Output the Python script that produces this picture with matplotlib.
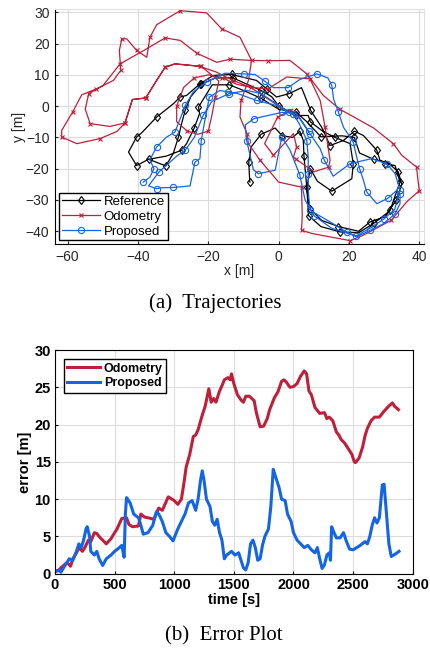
import matplotlib
matplotlib.use("Agg")
import matplotlib.pyplot as plt

# ---- (a) trajectories: waypoints [m] ----
ref_x = [-8.2, -8.3, -8.5, -7.8, -5.0, -1.0, 1.0, 4.0, 6.0, 7.0, 7.2, 7.5, 8.0, 8.4, 9.0, 12.2, 17.0,
         22.7, 26.0, 30.2, 31.7, 33.0, 34.5, 33.1, 30.2, 28.8, 27.9, 24.1, 21.5, 18.4, 14.6, 12.2, 9.1,
         6.5, 3.0, -0.6, -3.4, -6.3, -13.4, -18.6, -22.4, -26.2, -28.0, -30.0, -34.7, -39.0, -40.4,
         -42.7, -40.4, -37.0, -32.1, -30.0, -28.5, -27.6, -26.6, -25.0, -22.0, -18.0, -13.0, -9.0,
         -5.0, -2.0, 0.0, 2.3, 5.0, 8.4, 9.0, 12.5, 16.0, 20.3, 21.2, 20.8, 15.1, 11.0, 9.0, 8.0, 8.5,
         12.0, 17.4, 22.7, 27.0, 31.0, 33.5, 35.0, 34.0, 31.0, 27.0, 23.0, 21.5, 18.0, 12.0, 8.0,
         5.0, 0.0, -5.0, -10.0, -14.0, -18.9, -22.8, -22.5, -24.0, -26.2, -27.6, -32.0, -37.0]
ref_y = [-24.3, -22.5, -18.0, -13.0, -9.0, -7.0, -9.5, -10.0, -8.0, -11.0, -16.0, -20.0, -26.0,
         -30.0, -33.0, -36.5, -38.5, -40.0, -37.0, -35.4, -33.3, -29.0, -24.3, -19.0, -18.4, -17.3,
         -14.1, -9.4, -8.0, -11.0, -12.6, -6.7, -1.4, 5.9, 4.0, 2.9, 5.5, 8.2, 10.1, 9.8, 7.1, 3.4,
         2.9, 0.7, -3.5, -8.6, -9.9, -14.7, -19.0, -17.0, -19.1, -15.2, -9.9, -5.6, -1.4, 3.0, 7.0,
         9.0, 9.0, 7.0, 5.0, 3.0, 0.0, -1.4, -3.0, -3.0, -5.0, -8.0, -10.0, -12.0, -18.4, -23.2,
         -27.2, -24.0, -20.0, -26.0, -35.0, -38.5, -40.2, -40.5, -37.5, -34.0, -30.0, -25.0, -21.0,
         -18.0, -17.0, -15.0, -10.0, -9.5, -9.8, -5.0, -2.0, -1.0, 2.5, 5.0, 6.8, 6.8, -0.3, -2.4,
         -7.0, -12.0, -14.1, -16.0, -17.0]

odo_x = [0.0, -4.0, -8.0, -12.0, -16.0, -20.0, -24.0, -27.0, -29.0, -29.0, -26.0, -23.0, -20.0,
         -19.0, -18.0, -17.0, -22.0, -29.5, -32.3, -34.7, -37.8, -41.6, -43.7, -46.0, -50.8, -57.4,
         -61.7, -61.7, -58.6, -56.0, -51.8, -47.0, -44.9, -45.3, -44.6, -43.2, -40.4, -37.5, -36.6,
         -34.7, -28.0, -20.5, -16.2, -11.0, -7.7, -8.6, -10.7, -11.0, -9.0, -8.6, -5.3, 0.0, 6.5,
         6.7, 6.5, 9.4, 20.3, 24.0, 32.0, 36.4, 40.0, 39.6, 39.2, 35.0, 32.6, 27.0, 17.4, 12.7, 8.0,
         3.2, -3.0, -8.0, -13.8, -17.6, -23.3, -28.0, -32.3, -38.0, -45.1, -50.0, -54.0, -55.0,
         -53.6, -48.0, -43.7, -41.6, -37.8, -34.7, -32.3, -29.5, -22.4, -17.8, -13.0, -8.0, -3.0,
         2.3, 8.9, 11.8, 13.2, 14.6, 14.2, 10.0, 5.0, 4.2, 5.1, 4.2, -1.5, -4.0, -0.3, 4.0]
odo_y = [0.0, 3.0, 6.0, 7.0, 9.0, 10.0, 9.0, 6.0, 0.0, -5.0, -8.0, -9.0, -8.0, -3.0, 3.0, 8.0,
         12.7, 13.5, 12.4, 8.2, 2.6, 2.1, -5.4, -8.1, -10.4, -12.0, -9.9, -7.8, -1.9, 3.6, 5.5, 8.2,
         11.4, 17.8, 21.5, 21.5, 17.8, 15.6, 22.0, 26.0, 30.5, 29.8, 24.7, 22.0, 14.6, 8.2, 1.8, -3.5,
         -8.8, -12.0, -17.3, -24.3, -25.9, -35.0, -39.7, -40.7, -43.0, -41.3, -36.5, -30.6, -27.0,
         -23.7, -19.5, -15.7, -12.0, -7.0, -1.0, 3.4, 10.3, 14.6, 14.5, 14.6, 15.0, 14.0, 16.9, 21.0,
         21.8, 18.0, 13.5, 6.5, 4.0, -1.0, -5.6, -6.5, -5.4, 2.1, 2.6, 8.2, 12.4, 13.5, 12.7, 10.9,
         8.2, 6.0, 5.5, 9.3, 8.7, 1.8, -6.7, -17.3, -19.5, -21.0, -17.0, -16.3, -13.0, -8.8, -15.7,
         -12.0, -3.5, -1.0]

prop_x = [-38.5, -36.6, -35.5, -36.6, -34.7, -32.0, -29.5, -28.0, -26.5, -24.3, -20.5, -15.3,
          -10.0, -6.7, -4.0, -1.5, 2.7, 6.0, 10.8, 14.0, 15.1, 15.6, 17.0, 18.4, 21.2, 22.2, 23.0,
          24.1, 25.0, 27.9, 31.0, 33.6, 34.5, 34.5, 33.1, 29.8, 26.0, 22.2, 19.3, 14.6, 8.9, 8.4,
          8.4, 8.4, 8.0, 6.0, 4.2, -0.3, -6.3, -11.9, -14.3, -16.7, -19.7, -21.0, -22.0, -22.4,
          -23.8, -25.2, -30.0, -33.3, -34.7, -37.0, -34.0, -29.0, -26.6, -24.0, -21.5, -19.0,
          -14.0, -9.0, -5.0, -1.0, 3.0, 6.0, 9.0, 11.8, 13.0, 15.5, 20.3, 26.4, 30.7, 33.1, 34.5,
          33.0, 30.0, 26.0, 22.0, 15.0, 10.0, 7.5, 6.0, 3.2, 0.9, -1.0, -5.8, -7.2, -9.1, -9.5,
          -7.0, -3.0, 1.0, 5.1, 8.5]
prop_y = [-24.3, -22.7, -20.0, -17.1, -13.1, -10.0, -8.3, -4.0, 0.3, 4.5, 7.7, 10.5, 10.3, 10.1,
          8.0, 5.9, 5.9, 8.5, 10.3, 9.0, 6.6, 2.3, -2.0, -6.7, -11.5, -16.3, -20.0, -23.7, -27.4,
          -31.2, -29.5, -26.9, -28.0, -31.2, -34.4, -37.6, -39.7, -41.8, -40.2, -37.0, -33.3, -26.9,
          -21.6, -16.3, -11.0, -6.0, -2.4, 0.1, 1.8, 4.1, 4.5, 5.0, 2.9, -4.6, -11.0, -16.8, -17.9,
          -25.5, -26.0, -26.1, -26.4, -25.5, -21.0, -16.0, -14.1, -10.0, -3.0, 1.5, 4.0, 5.0, 4.0,
          1.0, -2.0, -4.0, -9.0, -13.6, -17.3, -22.4, -18.4, -16.8, -18.4, -21.6, -26.9, -33.0,
          -36.0, -39.0, -41.5, -39.0, -35.0, -30.0, -22.0, -14.0, -9.9, -20.5, -21.6, -20.3, -11.0,
          -6.0, -4.0, -3.0, -2.0, -2.4, -8.0]

# ---- (b) error over time ----
t_odo = [0, 30, 50, 80, 100, 130, 150, 180, 200, 230, 250, 280, 300, 330, 350, 380, 400, 430, 470,
         500, 520, 560, 600, 620, 650, 700, 720, 750, 780, 830, 870, 900, 950, 1000, 1030, 1060,
         1080, 1100, 1130, 1160, 1180, 1200, 1230, 1260, 1290, 1310, 1330, 1350, 1380, 1400, 1420,
         1450, 1470, 1480, 1500, 1530, 1560, 1580, 1600, 1630, 1650, 1670, 1690, 1720, 1750, 1780,
         1800, 1840, 1870, 1900, 1920, 1940, 1970, 2000, 2030, 2060, 2090, 2110, 2130, 2150, 2180,
         2220, 2260, 2280, 2300, 2330, 2360, 2380, 2400, 2430, 2450, 2490, 2510, 2520, 2550, 2580,
         2600, 2620, 2650, 2680, 2720, 2760, 2800, 2830, 2850, 2860, 2880]
e_odo = [0.3, 0.4, 0.8, 1.2, 1.5, 1.0, 2.0, 2.8, 3.5, 3.0, 3.5, 4.5, 4.3, 5.5, 5.4, 4.8, 4.5, 4.0,
         4.7, 5.5, 6.0, 7.4, 7.5, 6.6, 6.3, 6.4, 8.0, 7.6, 7.5, 7.3, 8.8, 8.5, 10.3, 9.8, 9.3, 10.0,
         12.0, 14.3, 16.0, 18.4, 18.6, 19.3, 21.0, 22.5, 24.8, 23.0, 23.5, 23.0, 24.5, 25.2, 26.0,
         26.3, 26.0, 26.8, 25.5, 24.0, 23.3, 23.0, 23.8, 23.8, 23.5, 23.2, 21.5, 19.7, 19.8, 20.8,
         22.0, 23.6, 24.4, 25.8, 26.0, 25.7, 25.0, 25.1, 25.5, 26.5, 27.2, 26.8, 24.5, 24.0, 22.3,
         21.5, 21.6, 20.8, 21.0, 20.5, 19.0, 18.6, 18.0, 17.5, 17.0, 16.0, 15.0, 14.9, 15.5, 17.0,
         18.5, 19.5, 20.5, 21.0, 21.0, 21.8, 22.5, 22.9, 22.4, 22.3, 22.0]

t_prop = [0, 30, 50, 80, 120, 150, 180, 200, 220, 240, 260, 270, 290, 300, 330, 350, 370, 400,
          430, 470, 500, 540, 560, 580, 590, 600, 630, 660, 700, 720, 740, 780, 820, 850, 870, 900,
          930, 960, 990, 1030, 1060, 1090, 1120, 1150, 1180, 1200, 1220, 1235, 1250, 1270, 1300,
          1320, 1340, 1360, 1380, 1400, 1420, 1440, 1480, 1510, 1540, 1560, 1580, 1600, 1620, 1640,
          1660, 1680, 1700, 1720, 1740, 1760, 1790, 1810, 1830, 1850, 1880, 1900, 1930, 1950, 1980,
          2000, 2030, 2060, 2090, 2120, 2150, 2180, 2200, 2220, 2240, 2260, 2280, 2300, 2310, 2320,
          2340, 2360, 2390, 2420, 2440, 2470, 2500, 2530, 2560, 2600, 2620, 2640, 2660, 2680, 2700,
          2720, 2745, 2760, 2780, 2800, 2820, 2840, 2860, 2885]
e_prop = [0.3, 0.5, 0.2, 1.0, 2.0, 1.8, 3.0, 4.0, 3.5, 4.5, 6.0, 6.3, 5.0, 3.0, 2.5, 3.0, 2.0,
          1.1, 2.0, 2.5, 3.0, 3.5, 3.8, 2.2, 8.0, 10.2, 9.5, 8.0, 7.5, 6.5, 5.3, 5.5, 6.5, 8.3, 8.0,
          7.0, 5.5, 5.0, 4.4, 6.0, 7.0, 8.0, 9.5, 9.8, 8.5, 10.0, 12.5, 13.8, 12.5, 10.0, 9.0, 7.0,
          6.5, 7.3, 5.5, 4.5, 2.0, 2.5, 3.0, 2.5, 2.8, 1.8, 0.8, 0.5, 1.5, 4.0, 4.5, 3.5, 1.8, 2.0,
          3.8, 5.0, 6.0, 9.0, 14.0, 13.0, 11.5, 10.0, 9.8, 8.0, 7.0, 5.5, 4.5, 4.0, 3.5, 3.8, 3.2,
          2.8, 3.5, 2.0, 0.7, 1.2, 2.5, 2.8, 1.8, 6.3, 5.5, 4.8, 4.8, 5.5, 4.5, 3.3, 3.2, 3.5, 3.8,
          4.3, 4.0, 5.0, 6.5, 7.5, 6.8, 7.5, 11.9, 12.0, 8.0, 4.0, 2.3, 2.5, 2.7, 3.0]

RED = "#C01F3A"
BLUE = "#1464E6"

fig = plt.figure(figsize=(4.31, 6.5), dpi=100)
plt.rcParams['font.family'] = ['Liberation Sans', 'DejaVu Sans']

# top panel
ax1 = fig.add_axes([0.1276, 0.624, 0.856, 0.362])
ax1.plot(ref_x, ref_y, color="black", lw=0.9, marker="d", ms=4.5, mfc="none", mew=0.8,
         markevery=2, label="Reference")
ax1.plot(odo_x, odo_y, color=RED, lw=0.9, marker="x", ms=3.5, mew=0.8, markevery=2,
         label="Odometry")
ax1.plot(prop_x, prop_y, color=BLUE, lw=0.9, marker="o", ms=4.5, mfc="none", mew=0.8,
         markevery=2, label="Proposed")
ax1.set_xlim(-63.6, 41.3)
ax1.set_ylim(-44.2, 31)
ax1.set_xticks([-60, -40, -20, 0, 20, 40])
ax1.set_yticks([-40, -30, -20, -10, 0, 10, 20, 30])
ax1.grid(True, color="#DCDCDC", lw=0.8)
ax1.set_axisbelow(True)
for s in ["top", "right"]:
    ax1.spines[s].set_color("#E0E0E0")
ax1.tick_params(labelsize=10, length=2, direction="in", colors="#262626", pad=4)
ax1.set_xlabel("x [m]", fontsize=10, labelpad=0, color="#262626")
ax1.set_ylabel("y [m]", fontsize=10, labelpad=0, color="#262626")
ax1.legend(loc="lower left", fontsize=9.5, fancybox=False, edgecolor="black", framealpha=1,
           handlelength=2.9, borderaxespad=0.3, borderpad=0.2, labelspacing=0.2,
           handletextpad=0.3)
fig.text(0.5, 0.534, "(a)  Trajectories", ha="center", va="center", fontsize=15,
         family="Liberation Serif")

# bottom panel
ax2 = fig.add_axes([0.1276, 0.1174, 0.8300, 0.3441])
ax2.plot(t_odo, e_odo, color=RED, lw=2.2, label="Odometry")
ax2.plot(t_prop, e_prop, color=BLUE, lw=2.2, label="Proposed")
ax2.set_xlim(0, 3000)
ax2.set_ylim(0, 30)
ax2.set_xticks(range(0, 3001, 500))
ax2.set_yticks(range(0, 31, 5))
ax2.grid(True, color="#DCDCDC", lw=0.8)
ax2.set_axisbelow(True)
ax2.tick_params(labelsize=10.5, length=2, direction="in", pad=3)
for lab in ax2.get_xticklabels() + ax2.get_yticklabels():
    lab.set_fontweight("bold")
ax2.set_xlabel("time [s]", fontsize=10.5, fontweight="bold", labelpad=1)
ax2.set_ylabel("error [m]", fontsize=10.5, fontweight="bold", labelpad=2)
leg = ax2.legend(loc="upper left", prop={"weight": "bold", "size": 9}, fancybox=False,
                 edgecolor="black", framealpha=1, handlelength=2.6, borderpad=0.3,
                 labelspacing=0.2, handletextpad=0.3, borderaxespad=0.7)
fig.text(0.52, 0.022, "(b)  Error Plot", ha="center", va="center", fontsize=15,
         family="Liberation Serif")

fig.savefig("out.png", dpi=100)
